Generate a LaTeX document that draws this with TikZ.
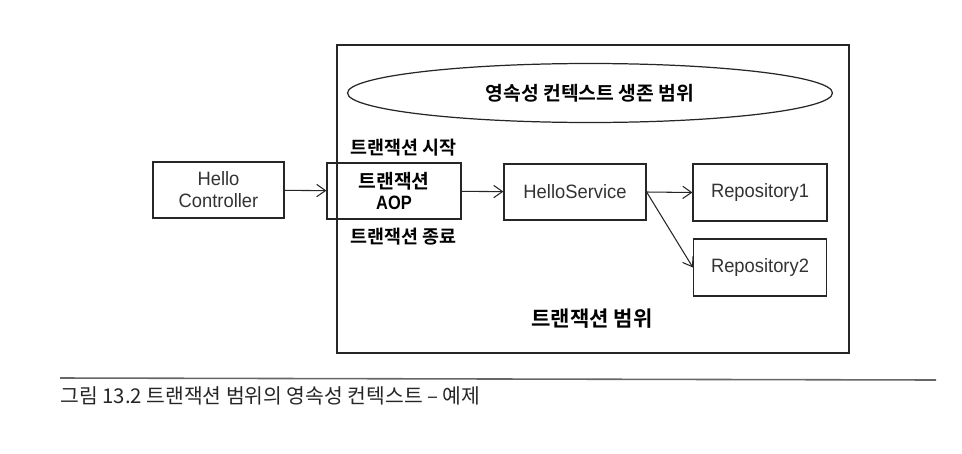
\documentclass[tikz,border=0pt]{standalone}
\usepackage{fontspec}
\setmainfont{Noto Sans CJK KR}
\newfontfamily\latinfont[FakeStretch=0.95]{Liberation Sans}
\newfontfamily\aopfont[FakeStretch=0.85]{Liberation Sans}
\newfontfamily\korbold{Noto Sans CJK KR Bold}
\usetikzlibrary{positioning}
\usetikzlibrary{arrows.meta}
\usetikzlibrary{shapes.geometric}

\begin{document}
\begin{tikzpicture}[
    x=0.02cm, y=-0.02cm,
    box/.style={rectangle, draw=black!85, line width=0.7pt, minimum height=1.12cm, align=center, inner sep=1pt, text=black!80, font=\latinfont\fontsize{11}{12.5}\selectfont},
    boldlabel/.style={font=\korbold\fontsize{10.5}{12}\selectfont},
    flow/.style={-{Straight Barb[length=5pt, width=7pt]}, line width=0.6pt, draw=black!85},
    >=latex
]
    \useasboundingbox (0,0) rectangle (962,453);

    % transaction scope
    \node[draw=black!85, line width=0.8pt, minimum width=10.24cm, minimum height=6.16cm] (scope) at (593,199) {};
    \node[ellipse, draw=black!85, line width=0.7pt, minimum width=9.7cm, minimum height=1.18cm, font=\korbold\fontsize{11}{13}\selectfont] (ctx) at (590,93) {영속성 컨텍스트 생존 범위};
    \node[font=\korbold\fontsize{12}{14}\selectfont] (range) at (592,319) {트랜잭션 범위};

    % components
    \node[box, minimum width=2.62cm] (ctrl) at (218.5,190) {Hello\\Controller};
    \node[box, minimum width=2.68cm, text=black, font=\korbold\fontsize{11}{12.5}\selectfont] (aop) at (394,191) {트랜잭션\\{\aopfont\bfseries AOP}};
    \node[box, minimum width=2.84cm] (svc) at (575,192) {HelloService};
    \node[box, minimum width=2.68cm, minimum height=1.14cm] (repo1) at (760,192.5) {Repository1};
    \node[box, minimum width=2.66cm, minimum height=1.14cm] (repo2) at (760,267.5) {Repository2};

    \node[boldlabel, anchor=west] (begin) at (344,148) {트랜잭션 시작};
    \node[boldlabel, anchor=west] (end) at (344,237) {트랜잭션 종료};

    \draw[flow] (ctrl) -- (aop);
    \draw[flow] (aop) -- (svc);
    \draw[flow] (svc.east) -- (repo1.west);
    \draw[flow] (svc.east) -- (repo2.west);

    % caption
    \coordinate (ruleL) at (60,378);
    \coordinate (ruleR) at (936,380);
    \draw[black!60, line width=0.9pt] (ruleL) -- (ruleR);
    \node[anchor=west, inner sep=0pt, text=black!85, font=\fontsize{11.6}{13}\selectfont] (caption) at (60,396) {그림 13.2 트랜잭션 범위의 영속성 컨텍스트 – 예제};
\end{tikzpicture}
\end{document}
